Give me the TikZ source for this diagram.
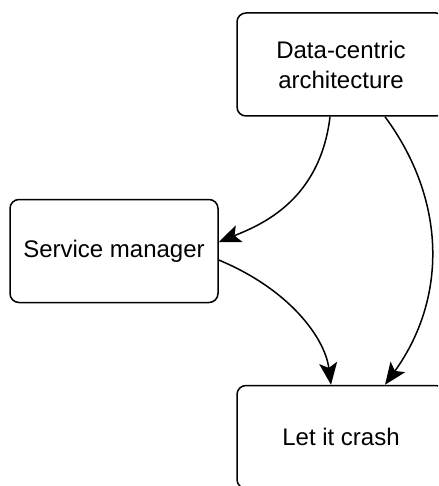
\documentclass[tikz,border=0pt]{standalone}
\usepackage{fontspec}
\setmainfont{Liberation Sans}
\usepackage{tikz}
\usetikzlibrary{arrows.meta}

\begin{document}
\begin{tikzpicture}[x=1pt, y=-1pt, >={Stealth[length=22pt, width=18pt, inset=5pt]},
  every node/.style={align=center},
  box/.style={draw=black, line width=1.5pt, rounded corners=9pt, minimum width=208pt,
    minimum height=103pt, fill=white, font=\fontsize{24}{30}\selectfont},
  ar/.style={->, line width=1.5pt}]
\useasboundingbox (0,0) rectangle (438,486);
\clip (0,0) rectangle (438,486);
\node[box] (dca) at (341,64.5) {Data-centric\\architecture};
\node[box] (svc) at (114,251) {Service manager};
\node[box] (crash) at (341,437) {Let it crash};
% connectors
\draw[ar] ([xshift=-11pt]dca.south) .. controls +(-10,84) and +(42,-17) .. ([yshift=9pt]svc.east);
\draw[ar] ([xshift=44pt]dca.south) .. controls +(62,84) and +(62,-86) .. ([xshift=44pt]crash.north);
\draw[ar] ([yshift=-9pt]svc.east) .. controls +(72,30) and +(-6,-46) .. ([xshift=-10pt]crash.north);
\end{tikzpicture}
\end{document}
